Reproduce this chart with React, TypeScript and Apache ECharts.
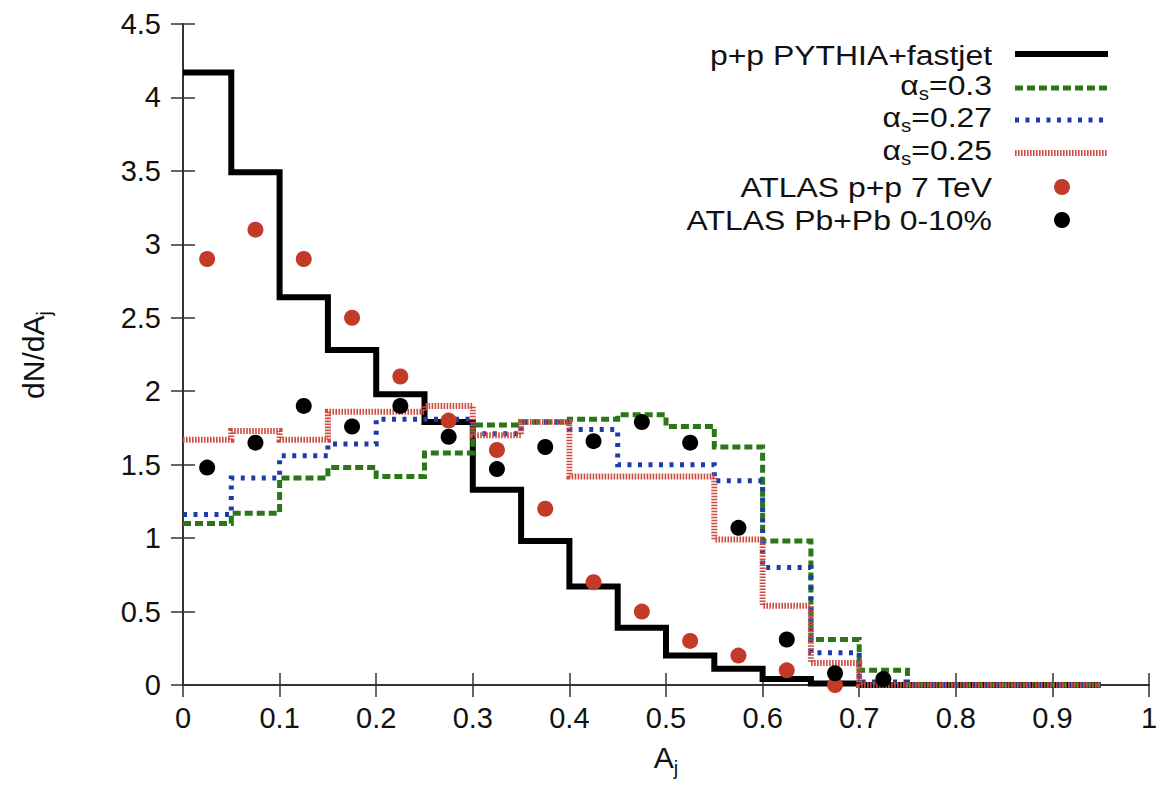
import React, { useEffect, useRef } from "react";
import * as echarts from "echarts";

// Histogram bins of A_j (left edges) and the right edge of the last bin
const binEdges = [0, 0.05, 0.1, 0.15, 0.2, 0.25, 0.3, 0.35, 0.4, 0.45, 0.5, 0.55, 0.6, 0.65, 0.7, 0.75, 0.8, 0.85, 0.9];
const lastEdge = 0.95;

// dN/dA_j per bin
const pythiaFastjet = [4.17, 3.49, 2.64, 2.28, 1.98, 1.79, 1.33, 0.98, 0.67, 0.39, 0.2, 0.11, 0.04, 0.01, 0, 0, 0, 0, 0];
const alphaS030 = [1.1, 1.17, 1.41, 1.48, 1.42, 1.58, 1.77, 1.79, 1.81, 1.84, 1.76, 1.62, 0.98, 0.31, 0.1, 0, 0, 0, 0];
const alphaS027 = [1.16, 1.41, 1.56, 1.64, 1.81, 1.81, 1.71, 1.79, 1.74, 1.5, 1.5, 1.39, 0.8, 0.22, 0.02, 0, 0, 0, 0];
const alphaS025 = [1.67, 1.73, 1.67, 1.86, 1.86, 1.9, 1.7, 1.79, 1.42, 1.42, 1.42, 0.99, 0.54, 0.15, 0, 0, 0, 0, 0];

// ATLAS measurements at bin centres
const ppCentres = [0.025, 0.075, 0.125, 0.175, 0.225, 0.275, 0.325, 0.375, 0.425, 0.475, 0.525, 0.575, 0.625, 0.675];
const atlasPP = [2.9, 3.1, 2.9, 2.5, 2.1, 1.8, 1.6, 1.2, 0.7, 0.5, 0.3, 0.2, 0.1, 0.0];
const pbCentres = [0.025, 0.075, 0.125, 0.175, 0.225, 0.275, 0.325, 0.375, 0.425, 0.475, 0.525, 0.575, 0.625, 0.675, 0.725];
const atlasPbPb = [1.48, 1.65, 1.9, 1.76, 1.9, 1.69, 1.47, 1.62, 1.66, 1.79, 1.65, 1.07, 0.31, 0.08, 0.04];

const FONT = "'Liberation Sans', Arial, Helvetica, sans-serif";
const GREEN = "#2b7718";
const BLUE = "#1c3ca8";
const RED_LINE = "#cc4b42";
const RED_DOT = "#c23a28";
const LEGEND_SIZE = 28;
const LEGEND_STRETCH = 1.14;

const histogram = (vals: number[]) => [
  ...binEdges.map((x, i) => [x, vals[i]]),
  [lastEdge, vals[vals.length - 1]],
];
const points = (xs: number[], ys: number[]) => xs.map((x, i) => [x, ys[i]]);

const legendEntries = [
  { label: "p+p PYTHIA+fastjet", rich: false, kind: "line", color: "#000", width: 6, dash: null as number[] | null, y: 55 },
  { label: "{a|α}{s|s}{t|=0.3}", rich: true, kind: "line", color: GREEN, width: 5, dash: [8, 4], y: 89 },
  { label: "{a|α}{s|s}{t|=0.27}", rich: true, kind: "line", color: BLUE, width: 5, dash: [4, 6.5], y: 121 },
  { label: "{a|α}{s|s}{t|=0.25}", rich: true, kind: "line", color: RED_LINE, width: 6, dash: [1.6, 1.4], y: 154 },
  { label: "ATLAS p+p 7 TeV", rich: false, kind: "dot", color: RED_DOT, width: 0, dash: null, y: 187 },
  { label: "ATLAS Pb+Pb 0-10%", rich: false, kind: "dot", color: "#000", width: 0, dash: null, y: 220 },
];

// main text sits on a raised box, the subscript drops below it
const subRich = {
  a: { fontSize: LEGEND_SIZE, fontFamily: FONT, fill: "#111", lineHeight: 22, verticalAlign: "bottom", padding: [0, 0, 4, 0] },
  t: { fontSize: LEGEND_SIZE, fontFamily: FONT, fill: "#111", lineHeight: 22, verticalAlign: "bottom", padding: [0, 0, 4, 0] },
  s: { fontSize: 18, fontFamily: FONT, fill: "#111", lineHeight: 14, verticalAlign: "bottom" },
};

function buildLegend() {
  const textRight = 992;
  const lineX1 = 1015;
  const lineX2 = 1108;
  const els: any[] = [];
  legendEntries.forEach((e) => {
    els.push({
      type: "text",
      x: textRight,
      y: e.rich ? e.y + 3 : e.y,
      scaleX: LEGEND_STRETCH,
      z: 100,
      style: {
        text: e.label,
        fill: "#111",
        fontSize: LEGEND_SIZE,
        fontFamily: FONT,
        align: "right",
        verticalAlign: "middle",
        rich: e.rich ? subRich : undefined,
      },
    });
    if (e.kind === "line") {
      els.push({
        type: "line",
        z: 100,
        shape: { x1: lineX1, y1: e.y - 1, x2: lineX2, y2: e.y - 1 },
        style: { stroke: e.color, lineWidth: e.width, lineDash: e.dash || undefined, lineCap: "butt" },
      });
    } else {
      els.push({
        type: "circle",
        z: 100,
        shape: { cx: 1062, cy: e.y, r: 8 },
        style: { fill: e.color },
      });
    }
  });
  return els;
}

const axisTitleRich = {
  m: { fontSize: 30, fontFamily: FONT, fill: "#111", lineHeight: 24, verticalAlign: "bottom", padding: [0, 0, 6, 0] },
  s: { fontSize: 20, fontFamily: FONT, fill: "#111", lineHeight: 18, verticalAlign: "bottom" },
};

export default function App() {
  const ref = useRef<HTMLDivElement>(null);

  useEffect(() => {
    document.body.style.margin = "0";
    if (!ref.current) return;
    const chart = echarts.init(ref.current, undefined, { renderer: "svg" });

    const axisLine = { show: true, lineStyle: { color: "#333", width: 2 } };
    const axisTick = { show: true, inside: true, length: 12, lineStyle: { color: "#333", width: 1.5 } };

    const stepLine = (name: string, vals: number[], color: string, width: number, dash: number[] | "solid", z: number) => ({
      name,
      type: "line",
      step: "end",
      data: histogram(vals),
      showSymbol: false,
      symbol: "none",
      clip: false,
      z,
      lineStyle: { color, width, type: dash, cap: "butt", join: "miter", opacity: 1 },
    });

    chart.setOption({
      animation: false,
      backgroundColor: "#fff",
      grid: { left: 183, right: 19, top: 24, bottom: 104, containLabel: false },
      xAxis: [
        {
          type: "value",
          min: 0,
          max: 1,
          interval: 0.1,
          position: "bottom",
          axisLine,
          axisTick,
          splitLine: { show: false },
          axisLabel: { color: "#111", fontSize: 29, fontFamily: FONT, margin: 18 },
        },
        {
          type: "value",
          min: 0,
          max: 1,
          interval: 0.1,
          position: "top",
          axisLine,
          axisTick,
          splitLine: { show: false },
          axisLabel: { show: false },
        },
      ],
      yAxis: [
        {
          type: "value",
          min: 0,
          max: 4.5,
          interval: 0.5,
          position: "left",
          axisLine,
          axisTick,
          splitLine: { show: false },
          axisLabel: { color: "#111", fontSize: 29, fontFamily: FONT, margin: 22 },
        },
        {
          type: "value",
          min: 0,
          max: 4.5,
          interval: 0.5,
          position: "right",
          axisLine,
          axisTick,
          splitLine: { show: false },
          axisLabel: { show: false },
        },
      ],
      series: [
        stepLine("p+p PYTHIA+fastjet", pythiaFastjet, "#000", 6, "solid", 2),
        stepLine("αs=0.3", alphaS030, GREEN, 5, [8, 4], 3),
        stepLine("αs=0.27", alphaS027, BLUE, 5, [4, 6.5], 4),
        stepLine("αs=0.25", alphaS025, RED_LINE, 6, [1.6, 1.4], 5),
        {
          name: "ATLAS p+p 7 TeV",
          type: "scatter",
          data: points(ppCentres, atlasPP),
          symbol: "circle",
          symbolSize: 16,
          clip: false,
          z: 6,
          itemStyle: { color: RED_DOT, opacity: 1 },
        },
        {
          name: "ATLAS Pb+Pb 0-10%",
          type: "scatter",
          data: points(pbCentres, atlasPbPb),
          symbol: "circle",
          symbolSize: 16,
          clip: false,
          z: 7,
          itemStyle: { color: "#000", opacity: 1 },
        },
      ],
      graphic: [
        ...buildLegend(),
        {
          type: "text",
          x: 666,
          y: 766,
          style: {
            text: "{m|A}{s|j}",
            align: "center",
            verticalAlign: "middle",
            rich: axisTitleRich,
          },
        },
        {
          type: "text",
          x: 42,
          y: 355,
          rotation: Math.PI / 2,
          style: {
            text: "{m|dN/dA}{s|j}",
            align: "center",
            verticalAlign: "middle",
            rich: axisTitleRich,
          },
        },
      ],
    });

    return () => chart.dispose();
  }, []);

  return <div ref={ref} style={{ width: 1168, height: 789 }} />;
}
